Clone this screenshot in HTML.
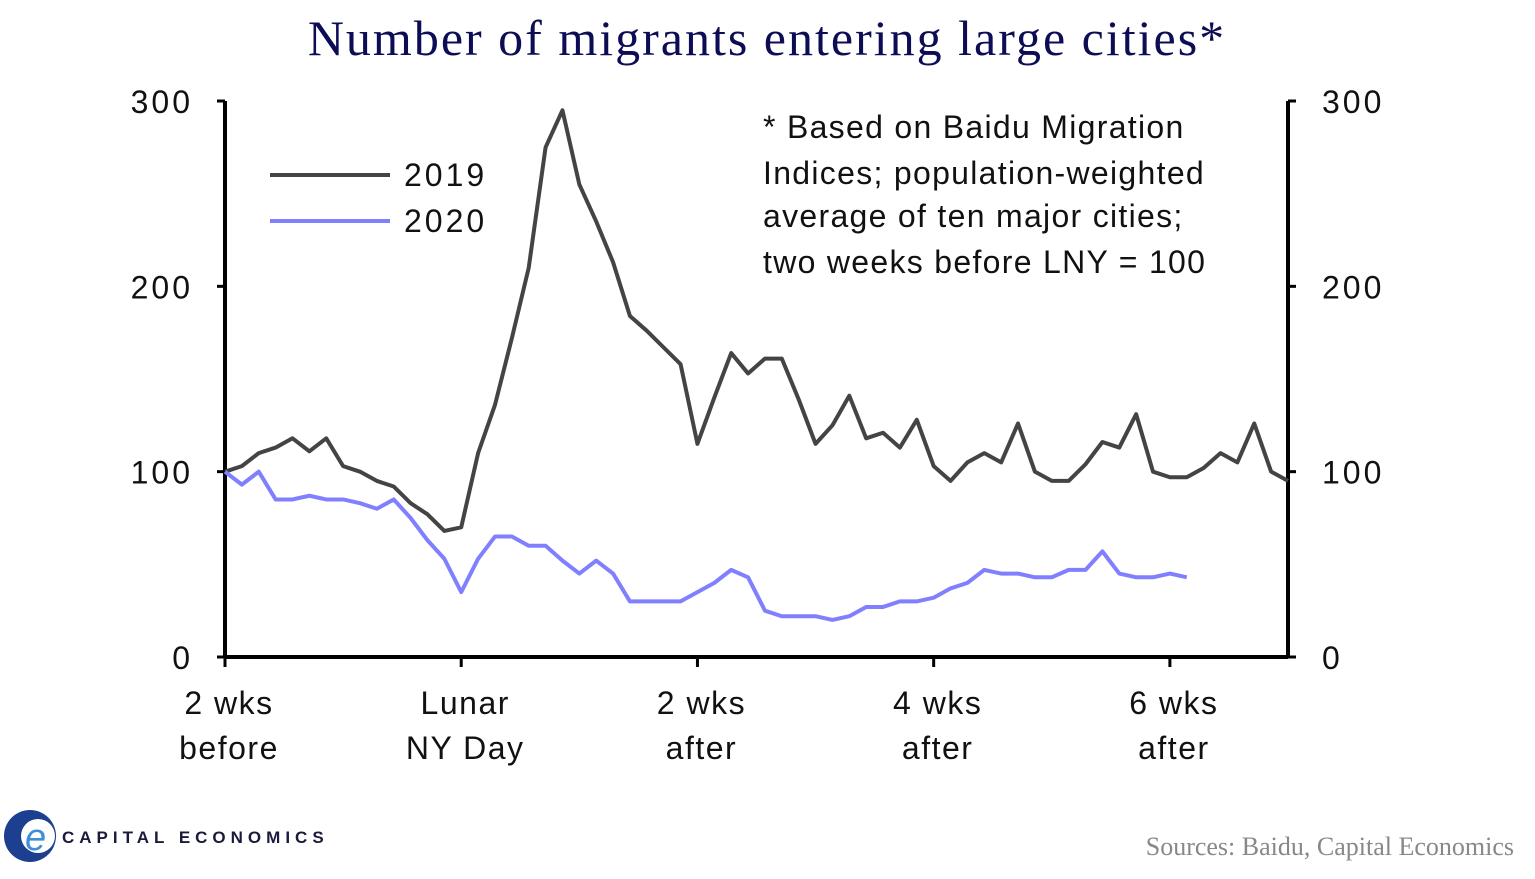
<!DOCTYPE html>
<html><head><meta charset="utf-8"><style>
body{margin:0;background:#fff;width:1535px;height:874px;overflow:hidden}
svg text{font-family:"Liberation Sans",sans-serif}
</style></head><body>
<svg id="chart" width="1535" height="874" xmlns="http://www.w3.org/2000/svg">
<text x="767" y="55" text-anchor="middle" font-size="50" letter-spacing="2" fill="#0d0d55" style="font-family:'Liberation Serif',serif">Number of migrants entering large cities*</text>
<g id="axes"></g>
<g id="series"></g>
<g>
<line x1="270" y1="175" x2="390" y2="175" stroke="#444" stroke-width="4"/>
<text x="404" y="186" font-size="32" letter-spacing="3" fill="#111">2019</text>
<line x1="270" y1="221" x2="390" y2="221" stroke="#8080ff" stroke-width="4"/>
<text x="404" y="232" font-size="32" letter-spacing="3" fill="#111">2020</text>
</g>
<g font-size="32" fill="#111" letter-spacing="1.3">
<text x="763" y="138">* Based on Baidu Migration</text>
<text x="763" y="184">Indices; population-weighted</text>
<text x="763" y="227">average of ten major cities;</text>
<text x="763" y="273">two weeks before LNY = 100</text>
</g>
<g>
<circle cx="30" cy="836" r="26" fill="#1d3f8f"/>
<circle cx="38" cy="836" r="17" fill="#fff"/>
<text x="25" y="850" font-size="38" fill="#3d8fd6" font-style="italic">e</text>
<text x="62" y="843" font-size="17" font-weight="bold" fill="#1a1a3a" letter-spacing="5">CAPITAL ECONOMICS</text>
</g>
<text x="1514" y="855" text-anchor="end" font-size="26" fill="#888" style="font-family:'Liberation Serif',serif">Sources: Baidu, Capital Economics</text>
</svg>
<script>
const values2019=[100,103,110,113,118,111,118,103,100,95,92,83,77,68,70,110,136,172,210,275,295,255,235,213,184,176,167,158,115,140,164,153,161,161,139,115,125,141,118,121,113,128,103,95,105,110,105,126,100,95,95,104,116,113,131,100,97,97,102,110,105,126,100,95];
const values2020=[100,93,100,85,85,87,85,85,83,80,85,75,63,53,35,53,65,65,60,60,52,45,52,45,30,30,30,30,35,40,47,43,25,22,22,22,20,22,27,27,30,30,32,37,40,47,45,45,43,43,47,47,57,45,43,43,45,43];
const yTicks=[0,100,200,300];
const xTickDays=[0,14,28,42,56];
const xTickLabels=[["2 wks","before"],["Lunar","NY Day"],["2 wks","after"],["4 wks","after"],["6 wks","after"]];
const X0=225,X1=1288,Y0=657,Y300=101,NDAYS=63;
const xs=d=>X0+(X1-X0)*d/NDAYS;
const ys=v=>Y0-(Y0-Y300)*v/300;
const NS="http://www.w3.org/2000/svg";
const ax=document.getElementById('axes'),se=document.getElementById('series');
function mk(tag,attrs,parent){const e=document.createElementNS(NS,tag);for(const k in attrs)e.setAttribute(k,attrs[k]);parent.appendChild(e);return e;}
let a=mk('line',{x1:X0,y1:Y300,x2:X0,y2:Y0,stroke:'#000','stroke-width':4},ax);


a=mk('line',{x1:X1,y1:Y300,x2:X1,y2:Y0,stroke:'#000','stroke-width':4},ax);


a=mk('line',{x1:X0,y1:Y0,x2:X1,y2:Y0,stroke:'#000','stroke-width':4},ax);


yTicks.forEach(v=>{
 const y=ys(v);
 mk('line',{x1:X0-8,y1:y,x2:X0,y2:y,stroke:'#000','stroke-width':3},ax);
 mk('line',{x1:X1,y1:y,x2:X1+8,y2:y,stroke:'#000','stroke-width':3},ax);
 let t=mk('text',{x:193,y:y+12,'text-anchor':'end','font-size':32,'letter-spacing':3,fill:'#111'},ax);t.textContent=v;
 
 
 t=mk('text',{x:1322,y:y+12,'font-size':32,'letter-spacing':3,fill:'#111'},ax);t.textContent=v;
 
 
});
xTickDays.forEach((d,i)=>{
 const x=xs(d);
 mk('line',{x1:x,y1:Y0,x2:x,y2:Y0+10,stroke:'#000','stroke-width':3},ax);
 xTickLabels[i].forEach((s,j)=>{
  const t=mk('text',{x:x+4,y:714+j*45,'text-anchor':'middle','font-size':32,'letter-spacing':1.5,fill:'#111'},ax);t.textContent=s;
  
  
 });
});
function line(vals,color,name){
 const p=mk('polyline',{points:vals.map((v,i)=>xs(i)+','+ys(v)).join(' '),fill:'none',stroke:color,'stroke-width':4,'stroke-linejoin':'round'},se);
 
 
}
line(values2019,'#444','line-2019');
line(values2020,'#8080ff','line-2020');
</script>
</body></html>
